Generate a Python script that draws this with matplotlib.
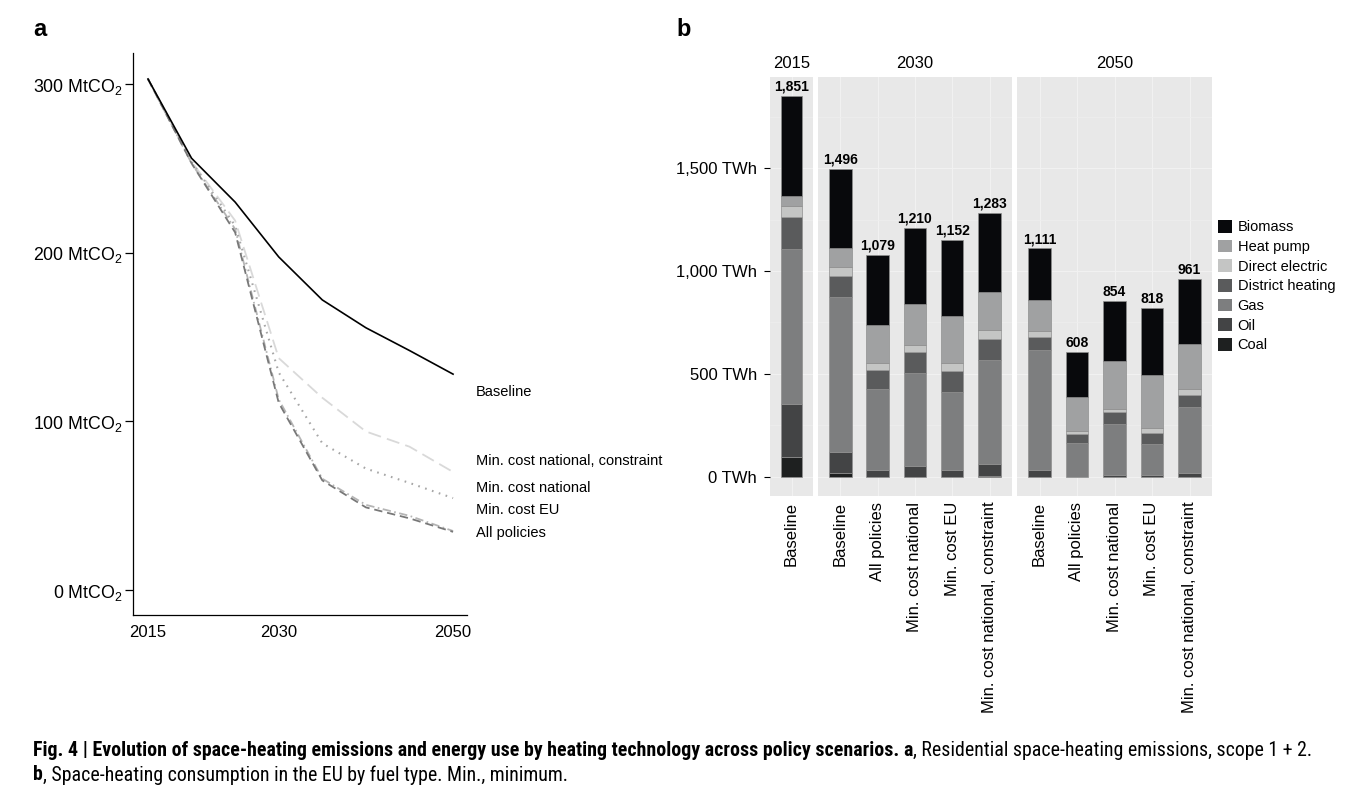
import matplotlib
matplotlib.use("Agg")
import matplotlib.pyplot as plt
import numpy as np
from matplotlib import font_manager
from matplotlib.patches import Patch
from matplotlib.transforms import IdentityTransform

W, H, DPI = 1347, 794, 100

plt.rcParams.update({
    "font.family": ["Liberation Sans", "DejaVu Sans"],
    "mathtext.fontset": "custom",
    "mathtext.rm": "Liberation Sans",
    "mathtext.default": "regular",
    "lines.scale_dashes": False,
})

# ---- panel a: emissions (MtCO2) ----
YEARS = [2015, 2020, 2025, 2030, 2035, 2040, 2045, 2050]
BASELINE = [303, 256, 230, 197.5, 172, 155.5, 142, 128]
MIN_COST_NAT_CONSTRAINT = [303, 254, 219, 137.5, 114, 94, 85, 70]
MIN_COST_NAT = [303, 254, 216, 129, 87, 72, 63.5, 54.5]
MIN_COST_EU = [303, 253, 214, 113, 66, 50.5, 44, 35]
ALL_POLICIES = [303, 253, 212, 111, 65, 49, 42.5, 34.5]

LINE_NAMES = ["Baseline", "Min. cost national, constraint", "Min. cost national", "Min. cost EU", "All policies"]
LINE_LABEL_Y = [117.4, 76.5, 60.5, 47.4, 33.8]

# ---- panel b: consumption (TWh) by fuel ----
BAR_YEAR = ["2015", "2030", "2030", "2030", "2030", "2030", "2050", "2050", "2050", "2050", "2050"]
BAR_SCENARIO = [
    "Baseline",
    "Baseline", "All policies", "Min. cost national", "Min. cost EU", "Min. cost national, constraint",
    "Baseline", "All policies", "Min. cost national", "Min. cost EU", "Min. cost national, constraint",
]
COAL = [99, 21, 0, 0, 0, 5, 0, 0, 0, 0, 0]
OIL = [255, 100, 36, 55, 36, 60, 36, 0, 8, 8, 18]
GAS = [751, 751, 391, 450, 377, 503, 580, 163, 249, 151, 320]
DISTRICT_HEATING = [155, 104, 94, 100, 100, 104, 65, 47, 57, 56, 60]
DIRECT_ELECTRIC = [58, 43, 31, 37, 40, 42, 28, 15, 18, 21, 28]
HEAT_PUMP = [44, 93, 186, 198, 229, 184, 150, 165, 229, 259, 220]
BIOMASS = [489, 384, 341, 370, 370, 385, 252, 218, 293, 323, 315]

FUELS = ["Coal", "Oil", "Gas", "District heating", "Direct electric", "Heat pump", "Biomass"]
FUEL_COLORS = {
    "Biomass": "#08090c",
    "Heat pump": "#a0a1a2",
    "Direct electric": "#c4c5c4",
    "District heating": "#5a5b5c",
    "Gas": "#7d7e7f",
    "Oil": "#434445",
    "Coal": "#1e2020",
}


def px(x0, y0, x1, y1):
    """figure-fraction rect from pixel box (top-left origin)"""
    return [x0 / W, 1 - y1 / H, (x1 - x0) / W, (y1 - y0) / H]


def draw_panel_a(fig):
    ax = fig.add_axes(px(133, 53, 467, 615))
    styles = [
        dict(color="black", lw=1.2, ls="-"),
        dict(color="#d9d9d9", lw=1.3, ls=(0, (9.5, 4.5))),
        dict(color="#a6a6a6", lw=1.5, ls=(0, (1.2, 4.0))),
        dict(color="#b5b5b5", lw=1.3, ls=(0, (6, 2.5, 1.2, 2.5))),
        dict(color="#787878", lw=1.3, ls=(0, (6, 3.5))),
    ]
    series = [BASELINE, MIN_COST_NAT_CONSTRAINT, MIN_COST_NAT, MIN_COST_EU, ALL_POLICIES]
    for vals, st, z in zip(series, styles, [5, 2, 3, 4, 4]):
        ax.plot(YEARS, vals, zorder=z, solid_joinstyle="miter", **st)
    for name, ly in zip(LINE_NAMES, LINE_LABEL_Y):
        ax.text(2052.6, ly, name, fontsize=10.5, ha="left", va="center", clip_on=False)

    ax.set_xlim(2013.28, 2051.6)
    ax.set_ylim(-14.8, 318.4)
    ax.set_xticks([2015, 2030, 2050])
    ax.set_yticks([0, 100, 200, 300], [f"{v} MtCO$_2$" for v in [0, 100, 200, 300]])
    ax.tick_params(axis="x", length=0, pad=7, labelsize=12)
    ax.tick_params(axis="y", length=6, width=0.9, pad=1.5, labelsize=12.8)
    for side in ["top", "right"]:
        ax.spines[side].set_visible(False)
    for side in ["left", "bottom"]:
        ax.spines[side].set_linewidth(0.9)
    fig.text(33 / W, 1 - 30 / H, "a", fontsize=17, weight="bold", va="center", ha="left")


def draw_panel_b(fig):
    facets = [("2015", 770, 813), ("2030", 818, 1012), ("2050", 1017, 1212)]
    fuel_values = {
        "Coal": COAL, "Oil": OIL, "Gas": GAS, "District heating": DISTRICT_HEATING,
        "Direct electric": DIRECT_ELECTRIC, "Heat pump": HEAT_PUMP, "Biomass": BIOMASS,
    }
    for k, (year, x0, x1) in enumerate(facets):
        ax = fig.add_axes(px(x0, 76.7, x1, 496))
        idx = [i for i, y in enumerate(BAR_YEAR) if y == year]
        x = np.arange(len(idx))
        bottom = np.zeros(len(idx))
        for fuel in FUELS:
            vals = np.array([fuel_values[fuel][i] for i in idx], dtype=float)
            m = vals > 0
            ax.bar(x[m], vals[m], 0.6, bottom=bottom[m], color=FUEL_COLORS[fuel],
                   edgecolor="#8f8f8f", linewidth=0.5, zorder=3)
            bottom += vals
        for xi, tot in zip(x, bottom):
            ax.annotate(f"{int(tot):,}", (xi, tot), xytext=(0, 1.5), textcoords="offset points",
                        ha="center", va="bottom", fontsize=10, weight="bold", zorder=4)

        ax.set_xlim(-0.6, len(idx) - 1 + 0.6)
        ax.set_ylim(-92.5, 1943.5)
        ax.set_facecolor("#e8e8e8")
        for s in ax.spines.values():
            s.set_visible(False)
        ax.set_yticks([0, 500, 1000, 1500])
        ax.set_yticks([250, 750, 1250, 1750], minor=True)
        ax.grid(True, which="major", color="#f1f1f1", lw=0.8, zorder=0)
        ax.grid(True, which="minor", axis="y", color="#eeeeee", lw=0.5, zorder=0)
        ax.set_axisbelow(True)
        ax.set_xticks(x, [BAR_SCENARIO[i] for i in idx], rotation=90, va="top")
        ax.tick_params(axis="x", length=0, pad=4, labelsize=12)
        ax.tick_params(axis="y", which="minor", length=0)
        if k == 0:
            ax.set_yticks([0, 500, 1000, 1500], ["0 TWh", "500 TWh", "1,000 TWh", "1,500 TWh"])
            ax.tick_params(axis="y", length=4.5, width=0.8, pad=5, labelsize=12)
        else:
            ax.tick_params(axis="y", length=0, labelleft=False)
        ax.annotate(year, xy=(0.5, 1), xycoords="axes fraction", xytext=(0, 9.6),
                    textcoords="offset points", ha="center", va="center", fontsize=12)

    handles = [Patch(facecolor=FUEL_COLORS[f], edgecolor="none", label=f) for f in FUELS[::-1]]
    fig.legend(handles=handles, loc="upper left", bbox_to_anchor=(1218 / W, 1 - 220 / H),
               frameon=False, fontsize=10.5, borderpad=0, borderaxespad=0,
               handlelength=0.95, handleheight=0.95, handletextpad=0.4, labelspacing=0.37)
    fig.text(676 / W, 1 - 29 / H, "b", fontsize=17, weight="bold", va="center", ha="left")


def caption_font():
    for fam in ["Liberation Sans Narrow", "Roboto Condensed", "Liberation Sans"]:
        try:
            font_manager.findfont(fam, fallback_to_default=False)
            return fam
        except Exception:
            continue
    return "DejaVu Sans"


def draw_runs(fig, x, y, runs, family, size):
    renderer = fig.canvas.get_renderer()
    probe = fig.text(0, 0, "x x", fontsize=size, family=family, transform=IdentityTransform())
    w2 = probe.get_window_extent(renderer).width
    probe.set_text("xx")
    space = w2 - probe.get_window_extent(renderer).width
    probe.remove()
    for text, weight, gap in runs:
        if gap:
            x += space
        t = fig.text(x, y, text, fontsize=size, family=family, weight=weight,
                     va="center", ha="left", transform=IdentityTransform())
        x += t.get_window_extent(renderer).width


def main():
    fig = plt.figure(figsize=(W / DPI, H / DPI), dpi=DPI)
    draw_panel_a(fig)
    draw_panel_b(fig)

    fam = caption_font()
    size = 14.3
    draw_runs(fig, 33, H - 750, [
        ("Fig. 4 | Evolution of space-heating emissions and energy use by heating technology across policy scenarios.", "bold", False),
        ("a", "bold", True),
        (", Residential space-heating emissions, scope 1 + 2.", "normal", False),
    ], fam, size)
    draw_runs(fig, 33, H - 775, [
        ("b", "bold", False),
        (", Space-heating consumption in the EU by fuel type. Min., minimum.", "normal", False),
    ], fam, size)

    fig.savefig("out.png", dpi=DPI)
    plt.close(fig)


if __name__ == "__main__":
    main()
